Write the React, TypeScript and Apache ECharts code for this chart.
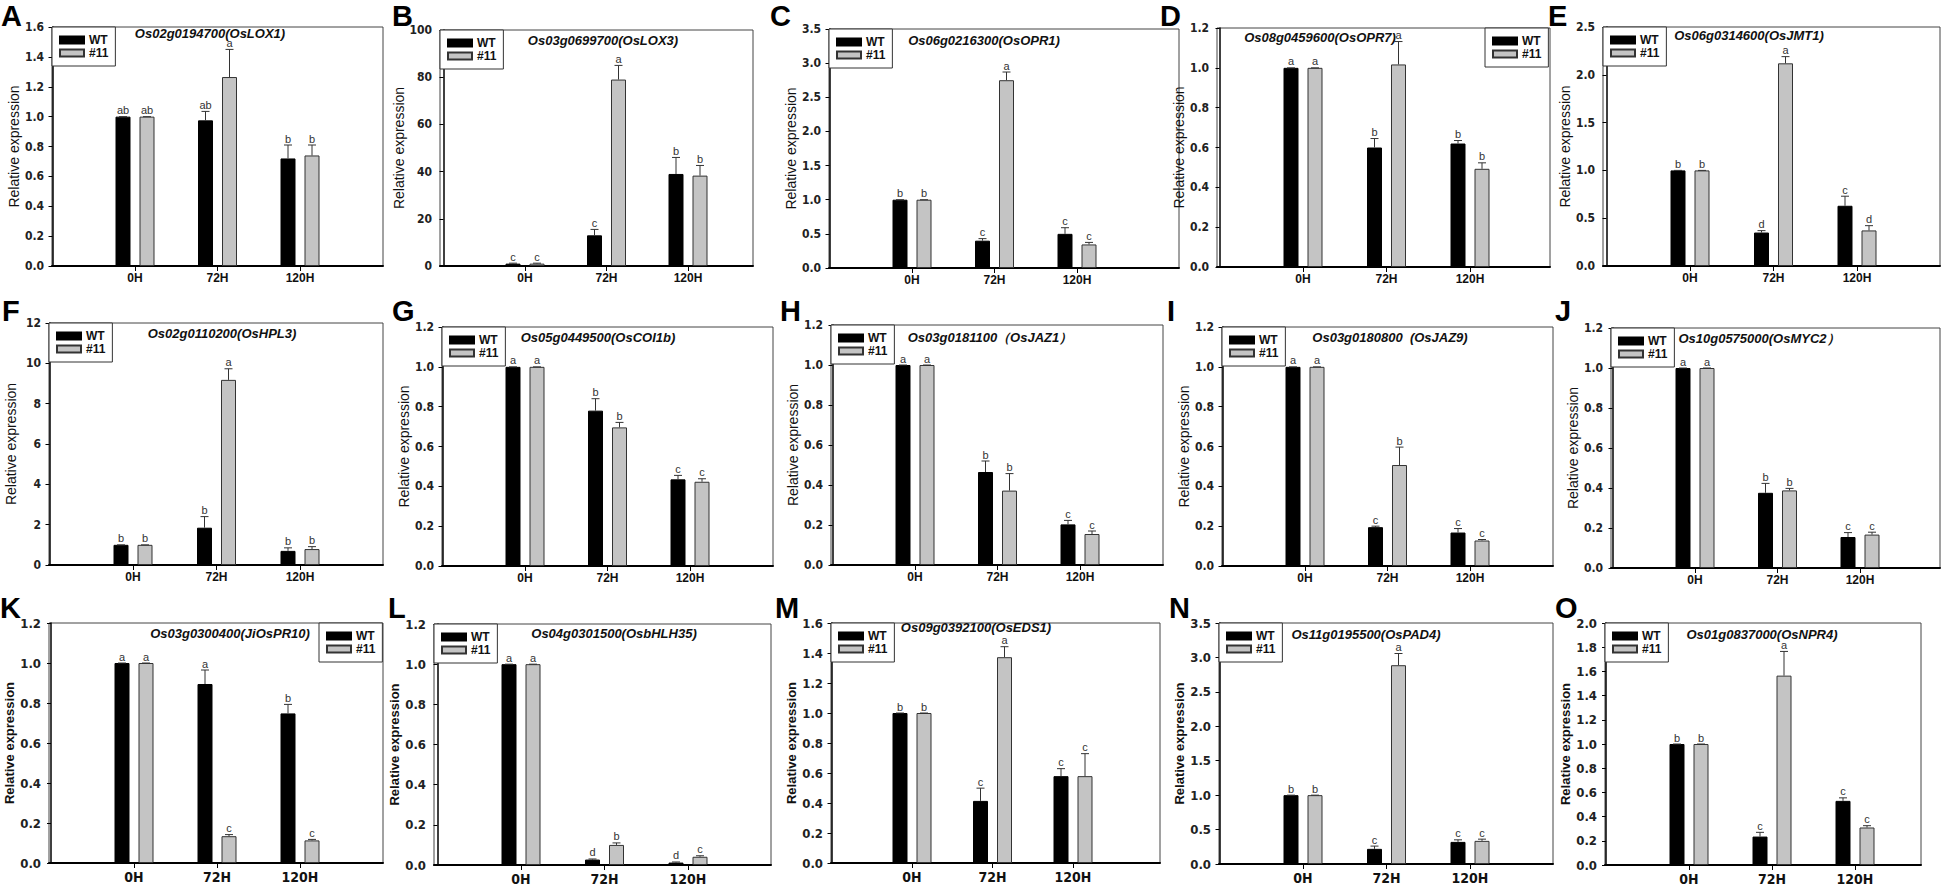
import React, { useEffect, useRef } from 'react';
import * as echarts from 'echarts';

const categories = ['0H', '72H', '120H'];
const seriesNames = ['WT', '#11'];
const panelLabels = ['A', 'B', 'C', 'D', 'E', 'F', 'G', 'H', 'I', 'J', 'K', 'L', 'M', 'N', 'O'];
const geneNames = [
  'Os02g0194700(OsLOX1)', 'Os03g0699700(OsLOX3)', 'Os06g0216300(OsOPR1)', 'Os08g0459600(OsOPR7)', 'Os06g0314600(OsJMT1)',
  'Os02g0110200(OsHPL3)', 'Os05g0449500(OsCOI1b)', 'Os03g0181100（OsJAZ1）', 'Os03g0180800  (OsJAZ9)', 'Os10g0575000(OsMYC2）',
  'Os03g0300400(JiOsPR10)', 'Os04g0301500(OsbHLH35)', 'Os09g0392100(OsEDS1)', 'Os11g0195500(OsPAD4)', 'Os01g0837000(OsNPR4)',
];
const yMaxes = [1.6, 100, 3.5, 1.2, 2.5, 12, 1.2, 1.2, 1.2, 1.2, 1.2, 1.2, 1.6, 3.5, 2.0];
const yIntervals = [0.2, 20, 0.5, 0.2, 0.5, 2, 0.2, 0.2, 0.2, 0.2, 0.2, 0.2, 0.2, 0.5, 0.2];
const yDecimals = [1, 0, 1, 1, 1, 0, 1, 1, 1, 1, 1, 1, 1, 1, 1];

const wtMean = [
  [1, 0.975, 0.72], [1.0, 13, 39], [1, 0.4, 0.5], [1, 0.6, 0.62], [1, 0.35, 0.63],
  [1, 1.85, 0.7], [1, 0.78, 0.435], [1, 0.465, 0.203], [1, 0.195, 0.168], [1, 0.376, 0.155],
  [1, 0.895, 0.748], [1, 0.027, 0.012], [1, 0.414, 0.579], [1, 0.22, 0.321], [1, 0.235, 0.53],
];
const wtErr = [
  [0, 0.06, 0.09], [0.2, 2.5, 7], [0, 0.03, 0.09], [0, 0.045, 0.015], [0, 0.02, 0.1],
  [0, 0.55, 0.15], [0, 0.06, 0.02], [0, 0.055, 0.02], [0, 0.005, 0.02], [0, 0.047, 0.022],
  [0, 0.07, 0.045], [0, 0.003, 0.003], [0, 0.085, 0.05], [0, 0.04, 0.03], [0, 0.035, 0.025],
];
const mutMean = [
  [1, 1.265, 0.74], [1.0, 79, 38.3], [1, 2.75, 0.345], [1, 1.017, 0.493], [1, 2.12, 0.372],
  [1, 9.18, 0.79], [1, 0.696, 0.423], [1, 0.372, 0.155], [1, 0.507, 0.128], [1, 0.388, 0.167],
  [1, 0.134, 0.113], [1, 0.1, 0.041], [1, 1.372, 0.579], [1, 2.887, 0.336], [1, 1.565, 0.31],
];
const mutErr = [
  [0, 0.185, 0.07], [0.2, 6, 4.3], [0, 0.12, 0.03], [0, 0.115, 0.03], [0, 0.07, 0.05],
  [0, 0.55, 0.12], [0, 0.025, 0.015], [0, 0.085, 0.015], [0, 0.09, 0.005], [0, 0.01, 0.012],
  [0, 0.008, 0.005], [0, 0.01, 0.005], [0, 0.07, 0.15], [0, 0.17, 0.025], [0, 0.2, 0.015],
];
const wtLetters = [
  ['ab', 'ab', 'b'], ['c', 'c', 'b'], ['b', 'c', 'c'], ['a', 'b', 'b'], ['b', 'd', 'c'],
  ['b', 'b', 'b'], ['a', 'b', 'c'], ['a', 'b', 'c'], ['a', 'c', 'c'], ['a', 'b', 'c'],
  ['a', 'a', 'b'], ['a', 'd', 'd'], ['b', 'c', 'c'], ['b', 'c', 'c'], ['b', 'c', 'c'],
];
const mutLetters = [
  ['ab', 'a', 'b'], ['c', 'a', 'b'], ['b', 'a', 'c'], ['a', 'a', 'b'], ['b', 'a', 'd'],
  ['b', 'a', 'b'], ['a', 'b', 'c'], ['a', 'b', 'c'], ['a', 'b', 'c'], ['a', 'b', 'c'],
  ['a', 'c', 'c'], ['a', 'b', 'c'], ['b', 'a', 'c'], ['b', 'a', 'c'], ['b', 'a', 'c'],
];

// layout: plot box [left, top, right, bottom], pixel x of first/last category, title center, legend corner, panel tag
const layouts = [
  { box: [52, 27, 383, 266], ticks: [135, 300], title: [210, 33], legend: [52, 27], tag: [1, 16] },
  { box: [440, 30, 753, 266], ticks: [525, 688], title: [603, 40], legend: [440, 30], tag: [392, 16] },
  { box: [829, 29, 1179, 268], ticks: [912, 1077], title: [984, 40], legend: [829, 29], tag: [770, 16] },
  { box: [1217, 28, 1550, 267], ticks: [1303, 1470], title: [1320, 37], legend: [1485, 28], tag: [1160, 16] },
  { box: [1603, 27, 1940, 266], ticks: [1690, 1857], title: [1749, 35], legend: [1603, 27], tag: [1548, 16] },
  { box: [49, 323, 383, 565], ticks: [133, 300], title: [222, 333], legend: [49, 323], tag: [2, 311] },
  { box: [442, 327, 773, 566], ticks: [525, 690], title: [598, 337], legend: [442, 327], tag: [392, 311] },
  { box: [831, 325, 1163, 565], ticks: [915, 1080], title: [990, 337], legend: [831, 325], tag: [780, 311] },
  { box: [1222, 327, 1553, 566], ticks: [1305, 1470], title: [1390, 337], legend: [1222, 327], tag: [1167, 311] },
  { box: [1611, 328, 1940, 568], ticks: [1695, 1860], title: [1759, 338], legend: [1611, 328], tag: [1555, 311] },
  { box: [49, 623, 383, 863], ticks: [134, 300], title: [230, 633], legend: [319, 623], tag: [0, 608] },
  { box: [434, 624, 771, 865], ticks: [521, 688], title: [614, 633], legend: [434, 624], tag: [388, 608] },
  { box: [831, 623, 1160, 863], ticks: [912, 1073], title: [976, 627], legend: [831, 623], tag: [775, 608] },
  { box: [1219, 623, 1553, 864], ticks: [1303, 1470], title: [1366, 634], legend: [1219, 623], tag: [1169, 608] },
  { box: [1605, 623, 1921, 865], ticks: [1689, 1855], title: [1762, 634], legend: [1605, 623], tag: [1555, 608] },
];

const SANS = '"Liberation Sans", Arial, Helvetica, sans-serif';
const NARROW = '"Liberation Sans Narrow", "Arial Narrow", "DejaVu Sans Condensed", "Liberation Sans", sans-serif';

function errorSeries(i: number, means: number[], errs: number[], letters: string[], off: number) {
  return {
    type: 'custom',
    xAxisIndex: i,
    yAxisIndex: i,
    z: 5,
    clip: false,
    silent: true,
    data: means.map((v, k) => [k + 1, v, errs[k]]),
    renderItem: (params: any, api: any) => {
      const x = api.value(0);
      const v = api.value(1);
      const e = api.value(2);
      const base = api.coord([x, v]);
      const top = api.coord([x, v + e]);
      const cx = base[0] + off;
      return {
        type: 'group',
        children: [
          { type: 'line', shape: { x1: cx, y1: base[1], x2: cx, y2: top[1] }, style: { stroke: '#333', lineWidth: 1 } },
          { type: 'line', shape: { x1: cx - 4, y1: top[1], x2: cx + 4, y2: top[1] }, style: { stroke: '#333', lineWidth: 1 } },
          {
            type: 'text',
            x: cx,
            y: top[1] - 1,
            style: {
              text: letters[params.dataIndex],
              fill: '#333',
              font: `11px ${SANS}`,
              align: 'center',
              verticalAlign: 'bottom',
              textAlign: 'center',
              textVerticalAlign: 'bottom',
            },
          },
        ],
      };
    },
  };
}

export default function App() {
  const ref = useRef<HTMLDivElement>(null);
  useEffect(() => {
    const chart = echarts.init(ref.current!, null, { renderer: 'svg' });
    const grid: any[] = [];
    const xAxis: any[] = [];
    const yAxis: any[] = [];
    const series: any[] = [];
    const legend: any[] = [];
    const elements: any[] = [];

    panelLabels.forEach((tag, i) => {
      const L = layouts[i];
      const [l, t, r, b] = L.box;
      const row3 = i >= 10;
      const s = (L.ticks[1] - L.ticks[0]) / 2;
      const xmin = 1 - (L.ticks[0] - l) / s;
      const xmax = 3 + (r - L.ticks[1]) / s;
      grid.push({ left: l, top: t, width: r - l, height: b - t, show: true, borderColor: '#444', borderWidth: 1, backgroundColor: 'transparent' });
      xAxis.push({
        type: 'value', gridIndex: i, min: xmin, max: xmax,
        axisLine: { show: true, onZero: false, lineStyle: { color: '#000', width: 2 } },
        axisTick: { show: true, customValues: [1, 2, 3], length: 5, lineStyle: { color: '#000', width: 1 } },
        axisLabel: {
          customValues: [1, 2, 3],
          formatter: (v: number) => categories[Math.round(v) - 1] ?? '',
          margin: row3 ? 7 : 6,
          color: '#111',
          fontFamily: row3 ? NARROW : SANS,
          fontSize: row3 ? 14 : 12,
          fontWeight: 'bold',
        },
        splitLine: { show: false },
      });
      yAxis.push({
        type: 'value', gridIndex: i, min: 0, max: yMaxes[i], interval: yIntervals[i],
        axisLine: { show: true, lineStyle: { color: '#000', width: 1.5 } },
        axisTick: { show: true, length: 4, lineStyle: { color: '#000' } },
        axisLabel: {
          formatter: (v: number) => v.toFixed(yDecimals[i]),
          margin: 8,
          color: '#222',
          fontFamily: NARROW,
          fontSize: row3 ? 13 : 12,
          fontWeight: 'bold',
        },
        splitLine: { show: false },
        name: 'Relative expression',
        nameLocation: 'middle',
        nameGap: 31,
        nameTextStyle: {
          fontFamily: SANS,
          fontSize: row3 ? 13 : 14,
          fontWeight: row3 ? 'bold' : 'normal',
          color: '#111',
        },
      });
      series.push({
        type: 'bar', name: seriesNames[0], xAxisIndex: i, yAxisIndex: i,
        data: wtMean[i].map((v, k) => [k + 1, v]),
        barWidth: 15, barGap: '60%',
        itemStyle: { color: '#000', borderColor: '#000', borderWidth: 1 },
        z: 2,
      });
      series.push({
        type: 'bar', name: seriesNames[1], xAxisIndex: i, yAxisIndex: i,
        data: mutMean[i].map((v, k) => [k + 1, v]),
        barWidth: 15, barGap: '60%',
        itemStyle: { color: '#c4c4c4', borderColor: '#333', borderWidth: 1 },
        z: 2,
      });
      series.push(errorSeries(i, wtMean[i], wtErr[i], wtLetters[i], -12));
      series.push(errorSeries(i, mutMean[i], mutErr[i], mutLetters[i], 12));
      legend.push({
        left: L.legend[0], top: L.legend[1], orient: 'vertical',
        data: seriesNames, icon: 'rect', itemWidth: 24, itemHeight: 7, itemGap: 1,
        padding: [7, 7, 7, 7], borderColor: '#333', borderWidth: 1, backgroundColor: '#fff',
        selectedMode: false, z: 10,
        textStyle: { fontFamily: SANS, fontSize: 12, fontWeight: 'bold', color: '#111' },
      });
      elements.push({
        type: 'text', x: L.title[0], y: L.title[1], z: 20,
        style: {
          text: geneNames[i], fill: '#111',
          font: `italic bold 13px ${SANS}`,
          align: 'center', verticalAlign: 'middle', textAlign: 'center', textVerticalAlign: 'middle',
        },
      });
      elements.push({
        type: 'text', x: L.tag[0], y: L.tag[1], z: 20,
        style: {
          text: tag, fill: '#000', font: `bold 29px ${SANS}`,
          align: 'left', verticalAlign: 'middle', textAlign: 'left', textVerticalAlign: 'middle',
        },
      });
    });

    chart.setOption({
      animation: false,
      backgroundColor: '#fff',
      grid, xAxis, yAxis, series, legend,
      graphic: { elements },
    });
    return () => chart.dispose();
  }, []);
  return <div ref={ref} style={{ position: 'absolute', left: 0, top: 0, width: 1946, height: 886 }} />;
}
